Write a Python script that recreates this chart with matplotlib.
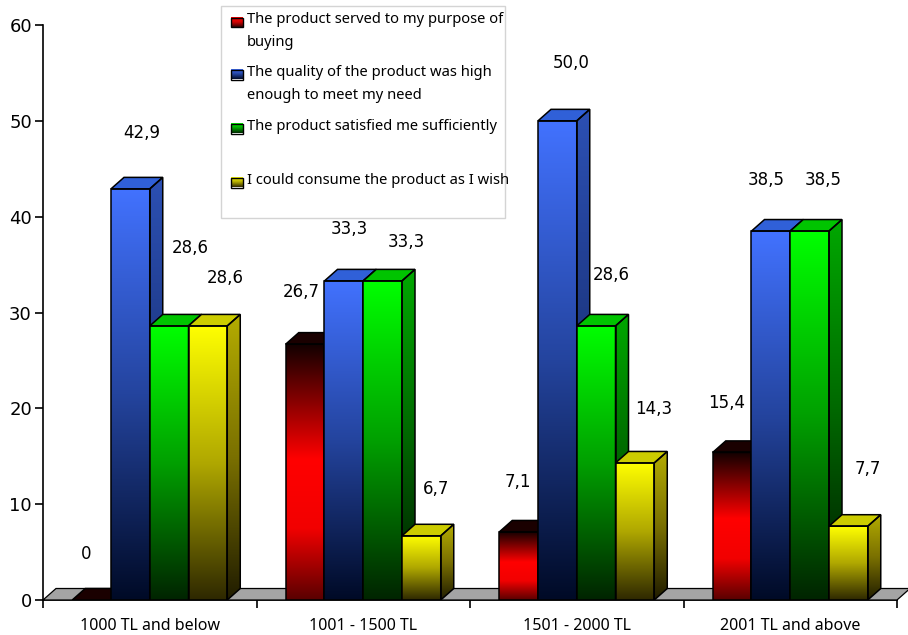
import numpy as np
import matplotlib.pyplot as plt
from matplotlib.colors import LinearSegmentedColormap
from matplotlib.patches import Polygon, Rectangle

# income groups and the share (%) of answers per statement
categories = ["1000 TL and below", "1001 - 1500 TL", "1501 - 2000 TL", "2001 TL and above"]
series_names = [
    "The product served to my purpose of\nbuying",
    "The quality of the product was high\nenough to meet my need",
    "The product satisfied me sufficiently",
    "I could consume the product as I wish",
]
served = [0, 26.7, 7.1, 15.4]
quality = [42.9, 33.3, 50.0, 38.5]
satisfied = [28.6, 33.3, 28.6, 38.5]
consume = [28.6, 6.7, 14.3, 7.7]
values = [served, quality, satisfied, consume]

# label nudges in pixels (right, up) from the centre of each bar top
label_nudge = [
    [(-5, 46), (-4, 52), (-1, 50), (-5, 49)],
    [(11, 56), (5, 52), (14, 58), (-5, 51)],
    [(21, 78), (24, 39), (15, 51), (14, 51)],
    [(17, 48), (15, 47), (19, 54), (19, 57)],
]

# colour ramps top -> bottom for front faces, plus side / top face colours
front_maps = [
    LinearSegmentedColormap.from_list("red", [(0, "#120000"), (0.45, "#ff0000"), (0.72, "#f20000"), (1, "#5a0000")]),
    LinearSegmentedColormap.from_list("blue", ["#4272ff", "#24449e", "#000a26"]),
    LinearSegmentedColormap.from_list("green", ["#00ff00", "#00a000", "#002400"]),
    LinearSegmentedColormap.from_list("yellow", ["#ffff00", "#b0a800", "#2e2800"]),
]
side_maps = [
    LinearSegmentedColormap.from_list("red_s", ["#200000", "#900000", "#300000"]),
    LinearSegmentedColormap.from_list("blue_s", ["#2c50b4", "#1c3680", "#060e28"]),
    LinearSegmentedColormap.from_list("green_s", ["#00a800", "#006800", "#001800"]),
    LinearSegmentedColormap.from_list("yellow_s", ["#b4ac00", "#7a7000", "#201c00"]),
]
legend_maps = [LinearSegmentedColormap.from_list("r_leg", ["#ff0000", "#d00000", "#300000"])] + front_maps[1:]
top_colors = ["#1a0000", "#3060d8", "#00c400", "#cccc00"]

W, H = 908, 635
fig = plt.figure(figsize=(W / 100, H / 100), dpi=100)
ax = fig.add_axes([43 / W, 35 / H, 854 / W, 575 / H])
ax.set_xlim(0, 4)
ax.set_ylim(0, 60)

# depth of the 3D extrusion, in pixels, turned into data units
px_x = ax.transData.transform((1, 0))[0] - ax.transData.transform((0, 0))[0]
px_y = ax.transData.transform((0, 1))[1] - ax.transData.transform((0, 0))[1]
ddx, ddy = 13 / px_x, 11.5 / px_y

# floor
floor = Polygon([(0, 0), (4, 0), (4 + ddx, ddy), (ddx, ddy)], closed=True,
                facecolor="#a4a4a4", edgecolor="black", lw=0.9, clip_on=False, zorder=1)
ax.add_patch(floor)

grad = np.linspace(0, 1, 256).reshape(-1, 1)
bw = 0.1815
z = 2
for i in range(len(categories)):
    for j in range(len(values)):
        h = values[j][i]
        x0 = i + 0.5 - 2 * bw + j * bw
        x1 = x0 + bw
        if h > 0:
            ax.imshow(grad, extent=(x0, x1, 0, h), origin="upper", aspect="auto",
                      cmap=front_maps[j], zorder=z, interpolation="bilinear")
            ax.add_patch(Rectangle((x0, 0), bw, h, fill=False, edgecolor="black", lw=1.1, zorder=z + 0.3))
            side = Polygon([(x1, 0), (x1 + ddx, ddy), (x1 + ddx, h + ddy), (x1, h)], closed=True,
                           facecolor="none", edgecolor="black", lw=1.1, zorder=z + 0.3)
            ax.add_patch(side)
            sim = ax.imshow(grad, extent=(x1, x1 + ddx, 0, h + ddy), origin="upper", aspect="auto",
                            cmap=side_maps[j], zorder=z + 0.1, interpolation="bilinear")
            sim.set_clip_path(side)
        top = Polygon([(x0, h), (x1, h), (x1 + ddx, h + ddy), (x0 + ddx, h + ddy)], closed=True,
                      facecolor=top_colors[j], edgecolor="black", lw=1.1, zorder=z + 0.2)
        ax.add_patch(top)
        label = "0" if h == 0 else f"{h:.1f}".replace(".", ",")
        ax.annotate(label, xy=((x0 + x1) / 2, h), xytext=label_nudge[j][i], textcoords="offset pixels",
                    ha="center", va="center", fontsize=12, family="DejaVu Sans", zorder=50)
        z += 1

ax.set_xlim(0, 4)
ax.set_ylim(0, 60)
ax.spines["top"].set_visible(False)
ax.spines["right"].set_visible(False)
ax.spines["left"].set_linewidth(1.2)
ax.spines["bottom"].set_linewidth(1.2)
ax.spines["bottom"].set_zorder(0.5)
ax.set_yticks(range(0, 61, 10))
ax.tick_params(axis="y", length=6, width=1.2, pad=2, labelsize=13)
ax.set_xticks([0, 1, 2, 3, 4])
ax.set_xticklabels([])
ax.tick_params(axis="x", which="major", length=6, width=1.2)
ax.set_xticks([0.5, 1.5, 2.5, 3.5], minor=True)
ax.set_xticklabels(categories, minor=True, fontsize=11.5, family="Noto Sans")
ax.tick_params(axis="x", which="minor", length=0, pad=13)
for t in ax.get_yticklabels():
    t.set_family("DejaVu Sans")

# legend box drawn in pixel coordinates
lax = fig.add_axes([0, 0, 1, 1], zorder=10)
lax.set_xlim(0, W)
lax.set_ylim(H, 0)
lax.axis("off")
lax.patch.set_alpha(0)
lax.add_patch(Rectangle((221, 6), 284, 212, facecolor="white", edgecolor="#d4d4d4", lw=1))
line_y = [[19.5, 42.5], [72, 95.5], [126], [180]]
for j, name in enumerate(series_names):
    y0 = line_y[j][0]
    lax.imshow(grad, extent=(231, 243, y0 + 7.5, y0 - 2), aspect="auto", cmap=legend_maps[j], zorder=11)
    lax.add_patch(Rectangle((231, y0 - 2), 12, 9.5, fill=False, edgecolor="black", lw=1, zorder=12))
    for k, line in enumerate(name.split("\n")):
        lax.text(247, line_y[j][k], line, ha="left", va="center", fontsize=10.6, family="Noto Sans", zorder=12)
lax.set_xlim(0, W)
lax.set_ylim(H, 0)

fig.savefig("out.png", dpi=100)
